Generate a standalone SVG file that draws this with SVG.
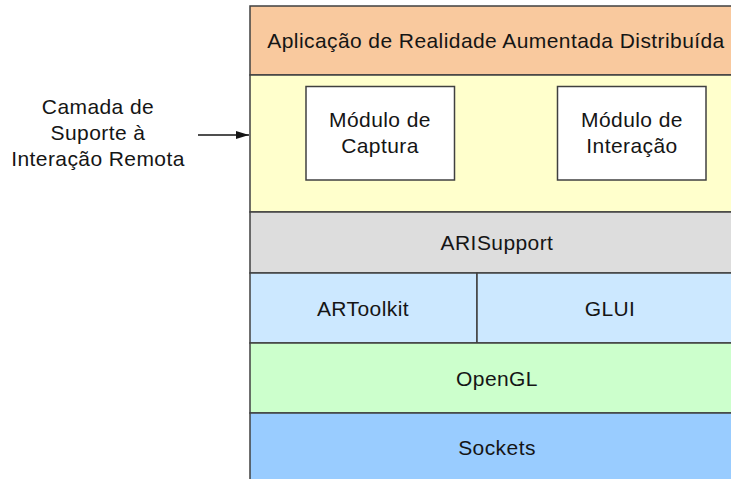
<svg xmlns="http://www.w3.org/2000/svg" width="731" height="479" viewBox="0 0 731 479">
<style>
  .t{font-family:"Liberation Sans",Arial,sans-serif;font-size:21px;letter-spacing:0.42px;fill:#151515;text-anchor:middle}
  .b{stroke:#404040;stroke-width:1.5}
</style>
<defs>
  <marker id="ah" viewBox="0 0 13 8" refX="13" refY="4" markerWidth="13" markerHeight="8" markerUnits="userSpaceOnUse" orient="auto">
    <path d="M0,0 L13,4 L0,8 Z" fill="#151515"/>
  </marker>
</defs>
<rect width="731" height="479" fill="#ffffff"/>
<g id="app">
  <rect class="b" x="250" y="6" width="494" height="69" fill="#F9C99E"/>
  <text class="t" x="496" y="47.5">Aplicação de Realidade Aumentada Distribuída</text>
</g>
<g id="suporte">
  <rect class="b" x="250" y="75" width="494" height="137" fill="#FFFFCC"/>
</g>
<g id="captura">
  <rect class="b" x="306" y="86.5" width="148.5" height="93.5" fill="#ffffff"/>
  <text class="t" x="380" y="127">Módulo de</text>
  <text class="t" x="380" y="153">Captura</text>
</g>
<g id="interacao">
  <rect class="b" x="557.5" y="86.5" width="148.5" height="93.5" fill="#ffffff"/>
  <text class="t" x="632" y="127">Módulo de</text>
  <text class="t" x="632" y="153">Interação</text>
</g>
<g id="arisupport">
  <rect class="b" x="250" y="212" width="494" height="61" fill="#DDDDDD"/>
  <text class="t" x="497" y="250">ARISupport</text>
</g>
<g id="artoolkit">
  <rect class="b" x="250" y="273" width="227" height="70" fill="#CCE8FF"/>
  <text class="t" x="363" y="315.5">ARToolkit</text>
</g>
<g id="glui">
  <rect class="b" x="477" y="273" width="267" height="70" fill="#CCE8FF"/>
  <text class="t" x="610" y="315.5">GLUI</text>
</g>
<g id="opengl">
  <rect class="b" x="250" y="343" width="494" height="70" fill="#CCFFCC"/>
  <text class="t" x="497" y="385.5">OpenGL</text>
</g>
<g id="sockets">
  <rect class="b" x="250" y="413" width="494" height="75" fill="#99CCFF"/>
  <text class="t" x="497" y="454.5">Sockets</text>
</g>
<g id="label">
  <text class="t" x="98" y="113.5">Camada de</text>
  <text class="t" x="98" y="139.8">Suporte à</text>
  <text class="t" x="98" y="166">Interação Remota</text>
</g>
<g id="connectors">
  <line x1="198" y1="135" x2="249" y2="135" stroke="#151515" stroke-width="1.3" marker-end="url(#ah)"/>
</g>
</svg>
